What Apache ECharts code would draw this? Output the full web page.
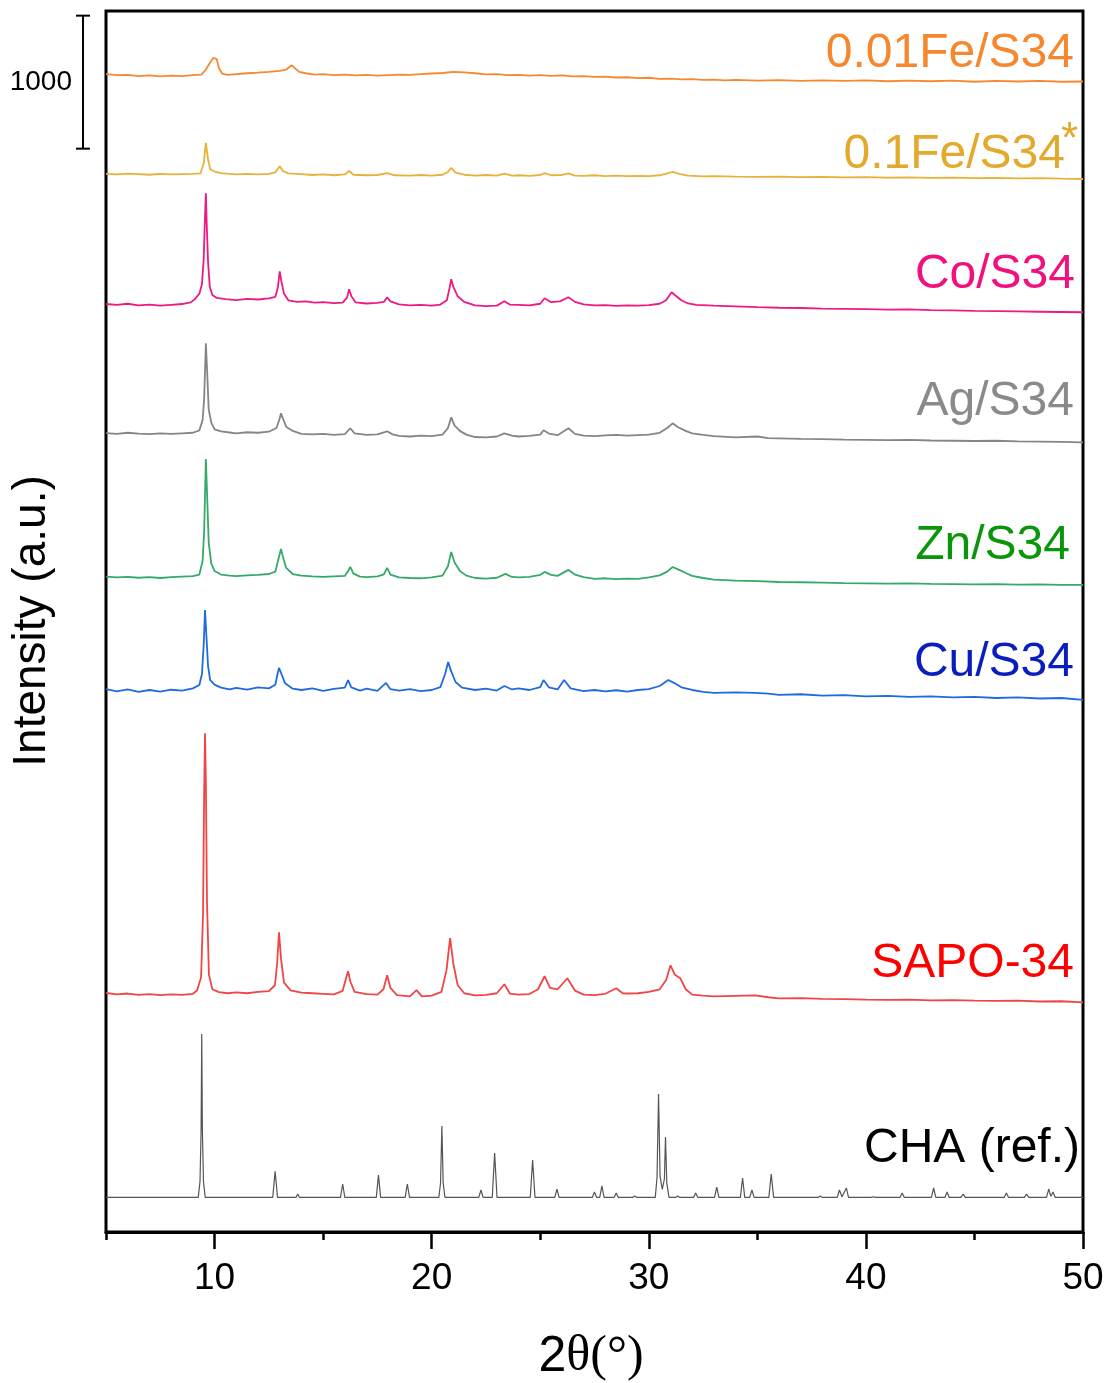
<!DOCTYPE html>
<html>
<head>
<meta charset="utf-8">
<title>XRD patterns</title>
<script src="https://cdn.jsdelivr.net/npm/echarts@6.0.0/dist/echarts.min.js"></script>
<style>
    html, body { margin: 0; padding: 0; background: #fff; }
    #main { width: 1112px; height: 1383px; }
</style>
</head>
<body>
<div id="main"></div>
<script>

// 2theta (deg), intensity (counts)

var fe001 = [[5,305],[5.5,298],[6,300],[6.5,290],[7,296],[7.5,288],[8,294],[8.5,290],[9,298],[9.4,302],[9.6,340],[9.8,395],[9.95,428],[10.1,418],[10.2,350],[10.35,310],[10.6,300],[11,306],[11.5,312],[12,316],[12.5,322],[13,330],[13.3,340],[13.55,372],[13.7,350],[13.9,322],[14.2,312],[14.6,302],[15,306],[15.5,298],[16,302],[16.5,296],[17,300],[17.5,294],[18,298],[18.5,302],[19,300],[19.5,306],[20,310],[20.5,314],[21,322],[21.5,318],[22,312],[22.5,304],[23,306],[23.5,298],[24,300],[24.5,294],[25,298],[25.5,292],[26,296],[26.5,288],[27,290],[27.5,284],[28,286],[28.5,280],[29,282],[29.5,276],[30,278],[30.5,270],[31,272],[31.5,266],[32,268],[32.5,262],[33,264],[33.5,258],[34,262],[35,256],[36,260],[37,254],[38,258],[39,254],[40,258],[41,252],[42,256],[43,252],[44,256],[45,248],[46,254],[47,250],[48,254],[49,248],[50,250]];

var fe01 = [[5,300],[5.5,296],[6,302],[6.5,298],[7,294],[7.5,300],[8,296],[8.5,298],[9,300],[9.35,304],[9.5,380],[9.6,533],[9.7,410],[9.8,335],[10,318],[10.3,306],[10.7,300],[11,296],[11.5,300],[12,296],[12.5,300],[12.8,312],[13.0,358],[13.15,322],[13.4,304],[14,298],[14.5,292],[15,296],[15.5,290],[16,296],[16.2,322],[16.4,294],[17,290],[17.5,292],[17.95,306],[18.3,290],[19,288],[19.5,292],[20,288],[20.5,294],[20.75,315],[20.9,345],[21.1,310],[21.5,294],[22,288],[22.5,292],[23,288],[23.35,302],[23.7,288],[24,290],[24.5,286],[25,292],[25.2,306],[25.5,290],[26,292],[26.3,304],[26.6,288],[27,286],[27.5,290],[28,284],[28.5,288],[29,284],[29.5,286],[30,284],[30.5,290],[30.9,306],[31.1,316],[31.4,300],[31.8,288],[32.5,282],[33,284],[34,280],[35,278],[36,280],[37,276],[38,278],[39,274],[40,276],[41,272],[42,274],[43,270],[44,272],[45,268],[46,270],[47,266],[48,268],[49,264],[50,262]];

var co = [[5,302],[5.5,296],[6,304],[6.5,292],[7,298],[7.5,290],[8,296],[8.5,302],[8.9,314],[9.1,340],[9.3,380],[9.42,450],[9.5,640],[9.56,960],[9.6,1135],[9.64,900],[9.7,620],[9.78,430],[9.9,370],[10.1,348],[10.5,338],[11,332],[11.5,340],[12,336],[12.5,344],[12.8,356],[12.92,430],[13.0,548],[13.08,470],[13.2,380],[13.4,330],[13.8,318],[14.2,322],[14.6,312],[15,316],[15.5,308],[15.9,312],[16.1,350],[16.2,413],[16.3,360],[16.5,314],[17,306],[17.5,310],[17.8,318],[17.95,353],[18.1,322],[18.5,300],[19,292],[19.5,296],[20,290],[20.4,298],[20.7,330],[20.82,420],[20.9,488],[21.0,430],[21.2,360],[21.5,318],[22,292],[22.5,286],[23,290],[23.35,323],[23.6,298],[24,296],[24.5,292],[25,304],[25.2,345],[25.5,316],[25.9,322],[26.3,353],[26.6,318],[27,300],[27.5,292],[28,294],[28.5,288],[29,292],[29.5,290],[30,294],[30.5,304],[30.8,330],[31.05,390],[31.2,370],[31.5,330],[31.8,306],[32.2,296],[33,290],[34,284],[35,278],[36,274],[37,272],[38,268],[39,266],[40,264],[41,260],[42,262],[43,256],[44,254],[45,250],[46,248],[47,246],[48,244],[49,242],[50,240]];

var ag = [[5,302],[5.5,296],[6,304],[6.5,298],[7,294],[7.5,300],[8,296],[8.5,300],[9,304],[9.3,322],[9.45,400],[9.52,560],[9.6,977],[9.66,760],[9.73,480],[9.85,380],[10,330],[10.3,314],[10.7,306],[11,300],[11.5,308],[12,304],[12.5,312],[12.85,340],[12.98,400],[13.06,450],[13.15,410],[13.3,350],[13.6,318],[14,296],[14.5,292],[15,296],[15.5,288],[16,294],[16.25,338],[16.45,300],[17,288],[17.5,292],[17.95,315],[18.2,292],[18.5,280],[19,276],[19.5,282],[20,278],[20.5,290],[20.75,340],[20.9,420],[21.05,360],[21.3,318],[21.6,290],[22,272],[22.5,270],[23,276],[23.35,300],[23.7,282],[24,276],[24.5,280],[25,290],[25.15,323],[25.4,298],[25.8,286],[26.3,338],[26.6,296],[27,282],[27.5,278],[28,284],[28.5,288],[29,282],[29.5,286],[30,290],[30.5,304],[30.85,340],[31.1,375],[31.35,345],[31.7,318],[32,300],[32.5,288],[33,278],[34,270],[35,276],[35.5,264],[36,262],[37,258],[38,256],[39,252],[40,250],[41,248],[42,250],[43,246],[44,244],[45,242],[46,244],[47,240],[48,238],[49,236],[50,232]];

var zn = [[5,302],[5.5,296],[6,300],[6.5,294],[7,298],[7.5,292],[8,298],[8.5,302],[9,306],[9.3,318],[9.45,420],[9.52,640],[9.6,1187],[9.66,900],[9.73,560],[9.85,400],[10,345],[10.3,318],[10.7,310],[11,306],[11.5,312],[12,316],[12.5,322],[12.8,340],[12.95,440],[13.06,510],[13.15,450],[13.3,368],[13.6,322],[14,310],[14.5,304],[15,300],[15.5,304],[16,308],[16.15,345],[16.25,375],[16.4,325],[16.7,302],[17,298],[17.5,304],[17.8,320],[17.95,368],[18.1,318],[18.5,296],[19,292],[19.5,290],[20,296],[20.5,310],[20.75,380],[20.9,488],[21.05,410],[21.3,345],[21.6,310],[22,292],[22.5,288],[23,294],[23.4,323],[23.7,300],[24,296],[24.5,300],[25,316],[25.2,338],[25.5,316],[25.8,308],[26.3,353],[26.6,318],[27,298],[27.5,286],[28,290],[28.5,284],[29,288],[29.5,286],[30,296],[30.5,312],[30.85,340],[31.1,375],[31.4,353],[31.7,330],[32,308],[32.5,292],[33,280],[34,272],[35,268],[36,262],[37,260],[38,258],[39,254],[40,252],[41,250],[42,252],[43,248],[44,246],[45,244],[46,246],[47,242],[48,244],[49,240],[50,240]];

var cu = [[5,306],[5.5,290],[6,304],[6.5,286],[7,300],[7.5,288],[8,302],[8.5,296],[9,312],[9.3,338],[9.42,420],[9.5,640],[9.56,902],[9.62,720],[9.7,480],[9.8,375],[10,340],[10.3,318],[10.7,304],[11,316],[11.5,302],[12,320],[12.5,312],[12.8,340],[12.9,420],[12.97,466],[13.08,420],[13.25,350],[13.6,310],[14,300],[14.5,312],[15,294],[15.5,308],[16,318],[16.15,375],[16.3,320],[16.7,296],[17,310],[17.5,294],[17.9,353],[18.1,306],[18.5,296],[19,306],[19.5,292],[20,300],[20.4,322],[20.62,420],[20.76,511],[20.9,440],[21.1,360],[21.4,318],[22,300],[22.5,310],[23,296],[23.35,330],[23.7,304],[24,312],[24.5,300],[25,322],[25.15,375],[25.4,320],[25.8,304],[26.1,375],[26.4,312],[27,292],[27.5,300],[28,290],[28.5,298],[29,288],[29.5,300],[30,306],[30.5,330],[30.9,375],[31.2,350],[31.5,320],[32,300],[32.5,286],[33,278],[34,282],[34.9,278],[35.5,272],[36,264],[37,268],[38,258],[39,262],[40,252],[41,256],[42,248],[43,252],[44,244],[45,248],[46,240],[47,244],[48,236],[49,240],[50,225]];

var sapo = [[5,302],[5.5,292],[6,298],[6.5,288],[7,294],[7.5,286],[8,292],[8.5,288],[9,296],[9.2,323],[9.38,420],[9.47,900],[9.52,1800],[9.56,2255],[9.6,1900],[9.65,1000],[9.74,440],[9.9,330],[10.2,308],[10.6,300],[11,306],[11.5,300],[12,310],[12.5,316],[12.78,360],[12.88,520],[12.97,759],[13.06,560],[13.2,380],[13.5,322],[14,304],[14.5,300],[15,296],[15.5,292],[15.9,318],[16.07,420],[16.15,465],[16.25,390],[16.45,310],[17,294],[17.5,290],[17.78,330],[17.95,435],[18.1,340],[18.4,286],[19,276],[19.3,323],[19.55,276],[20,282],[20.45,310],[20.68,470],[20.85,714],[21.0,520],[21.2,360],[21.5,300],[22,284],[22.5,288],[23,300],[23.35,368],[23.6,298],[24,290],[24.5,294],[24.9,330],[25.2,428],[25.45,340],[25.8,330],[26.25,413],[26.6,320],[27,290],[27.5,286],[28,296],[28.5,338],[28.8,300],[29,298],[29.5,300],[30,310],[30.5,330],[30.8,400],[31.0,510],[31.2,440],[31.45,413],[31.7,330],[32,290],[32.5,282],[33,276],[34,280],[34.9,284],[35.5,270],[36,262],[37,264],[38,258],[39,256],[40,252],[41,250],[42,252],[43,246],[44,248],[45,244],[46,242],[47,244],[48,238],[49,240],[50,232]];

// simulated CHA reference pattern
var cha = [[5,0],
    [9.25,0],[9.33,120],[9.38,500],[9.41,1229],[9.44,500],[9.49,120],[9.57,0],
    [12.68,0],[12.79,197],[12.9,0],
    [13.75,0],[13.83,26],[13.91,0],
    [15.8,0],[15.9,101],[16.0,0],
    [17.45,0],[17.55,168],[17.65,0],
    [18.78,0],[18.88,101],[18.98,0],
    [20.33,0],[20.41,110],[20.47,537],[20.53,110],[20.61,0],
    [22.17,0],[22.27,56],[22.37,0],
    [22.79,0],[22.9,334],[23.01,0],
    [24.54,0],[24.65,281],[24.76,0],
    [25.67,0],[25.77,63],[25.87,0],
    [27.4,0],[27.5,41],[27.6,0],
    [27.74,0],[27.84,86],[27.94,0],
    [28.4,0],[28.5,33],[28.6,0],
    [29.25,0],[29.35,11],[29.45,0],
    [30.3,0],[30.38,150],[30.45,778],[30.52,160],[30.62,60],[30.72,140],[30.77,454],[30.83,110],[30.93,0],
    [31.23,0],[31.33,11],[31.43,0],
    [32.06,0],[32.16,33],[32.26,0],
    [33.03,0],[33.13,78],[33.23,0],
    [34.22,0],[34.32,146],[34.42,0],
    [34.65,0],[34.75,56],[34.85,0],
    [35.53,0],[35.64,176],[35.75,0],
    [37.8,0],[37.9,11],[38.0,0],
    [38.68,0],[38.78,56],[38.9,5],[39.1,71],[39.2,0],
    [40.25,0],[40.35,5],[40.45,0],
    [41.57,0],[41.67,33],[41.77,0],
    [43.02,0],[43.12,71],[43.22,0],
    [43.64,0],[43.74,41],[43.84,0],
    [44.38,0],[44.48,26],[44.58,0],
    [46.37,0],[46.47,33],[46.57,0],
    [47.3,0],[47.4,26],[47.5,0],
    [48.32,0],[48.42,63],[48.52,8],[48.62,41],[48.72,0],
    [50,0]];

var names   = ['0.01Fe/S34', '0.1Fe/S34', 'Co/S34', 'Ag/S34', 'Zn/S34', 'Cu/S34', 'SAPO-34', 'CHA (ref.)'];
var patterns = [fe001, fe01, co, ag, zn, cu, sapo, cha];
var offsets = [8400, 7655, 6675, 5705, 4625, 3775, 1495, 260];   // vertical stacking offset (counts)

var majorTicks = [10, 20, 30, 40, 50];
var minorTicks = [5, 15, 25, 35, 45];
var scaleBar = [[3.94, 8145, 9145]];   // x, from, to (1000 counts)

// styles / layout
var lineColors = ['#F5892F', '#E8B13A', '#EE1A82', '#858585', '#35AA68', '#1F6ADF', '#F04545', '#555555'];
var textColors = ['#F5882E', '#E2A92C', '#F0117E', '#8A8A8A', '#0A960A', '#0A1EBE', '#FF0000', '#000000'];
var labelPos = [[1074, 54], [1065, 155], [1075, 275], [1074, 402], [1070, 546], [1074, 663], [1074, 964], [1080, 1149]];

var myChart = echarts.init(document.getElementById('main'));

var series = [];
for (var i = 0; i < patterns.length; i++) {
    var off = offsets[i];
    series.push({
        name: names[i],
        type: 'line',
        symbol: 'none',
        smooth: false,
        silent: true,
        lineStyle: { color: lineColors[i], width: i === 7 ? 1.2 : 1.8 },
        data: patterns[i].map(function (p) { return [p[0], p[1] + off]; })
    });
}

// 1000-count scale bar, drawn through the axes
series.push({
    type: 'custom',
    silent: true,
    clip: false,
    data: scaleBar,
    renderItem: function (params, api) {
        var p0 = api.coord([api.value(0), api.value(1)]);
        var p1 = api.coord([api.value(0), api.value(2)]);
        var st = { stroke: '#000', lineWidth: 2 };
        return {
            type: 'group',
            children: [
                { type: 'line', shape: { x1: p0[0], y1: p0[1], x2: p1[0], y2: p1[1] }, style: st },
                { type: 'line', shape: { x1: p0[0] - 7, y1: p0[1], x2: p0[0] + 7, y2: p0[1] }, style: st },
                { type: 'line', shape: { x1: p1[0] - 7, y1: p1[1], x2: p1[0] + 7, y2: p1[1] }, style: st },
                { type: 'text', style: { text: '1000', x: p0[0] - 11, y: (p0[1] + p1[1]) / 2, align: 'right', verticalAlign: 'middle',
                    font: '28px "Liberation Sans", Arial, sans-serif', fill: '#000' } }
            ]
        };
    }
});

var graphics = [];
for (var j = 0; j < names.length; j++) {
    graphics.push({
        type: 'text',
        x: labelPos[j][0],
        y: labelPos[j][1],
        silent: true,
        style: {
            text: names[j],
            align: 'right',
            verticalAlign: 'middle',
            font: '48px "Liberation Sans", Arial, sans-serif',
            fill: textColors[j]
        }
    });
}
// asterisk on 0.1Fe/S34
graphics.push({
    type: 'text', x: 1061, y: 119, silent: true,
    style: { text: '*', align: 'left', verticalAlign: 'top', font: '44px "Liberation Sans", Arial, sans-serif', fill: textColors[1] }
});
// axis titles
graphics.push({
    type: 'text', x: 32, y: 621, rotation: Math.PI / 2, silent: true,
    style: { text: 'Intensity (a.u.)', align: 'center', verticalAlign: 'middle', font: '46px "Liberation Sans", Arial, sans-serif', fill: '#000' }
});
graphics.push({
    type: 'text', x: 591, y: 1357, silent: true,
    style: {
        text: '{a|2}{b|θ(°)}',
        align: 'center',
        verticalAlign: 'middle',
        rich: {
            a: { fontFamily: '"Liberation Sans", Arial, sans-serif', fontSize: 50, fill: '#000' },
            b: { fontFamily: '"Liberation Serif", "Times New Roman", serif', fontSize: 50, fill: '#000' }
        }
    }
});

var option = {
    backgroundColor: '#fff',
    animation: false,
    grid: {
        left: 106,
        right: 29,
        top: 11,
        bottom: 151,
        show: true,
        borderColor: '#000',
        borderWidth: 3,
        containLabel: false
    },
    xAxis: [
        {
            type: 'value',
            min: 5,
            max: 50,
            position: 'bottom',
            axisLine: { show: true, onZero: false, lineStyle: { color: '#000', width: 3 } },
            axisTick: { show: true, customValues: majorTicks, length: 17, lineStyle: { color: '#000', width: 2.5 } },
            axisLabel: { customValues: majorTicks, color: '#000', fontSize: 37, fontFamily: '"Liberation Sans", Arial, sans-serif', margin: 28 },
            splitLine: { show: false }
        },
        {
            type: 'value',
            min: 5,
            max: 50,
            position: 'bottom',
            axisLine: { show: false, onZero: false },
            axisTick: { show: true, customValues: minorTicks, length: 8, lineStyle: { color: '#000', width: 2.5 } },
            axisLabel: { show: false },
            splitLine: { show: false }
        }
    ],
    yAxis: {
        type: 'value',
        min: 0,
        max: 9180,
        show: false,
        splitLine: { show: false }
    },
    graphic: graphics,
    series: series
};

myChart.setOption(option);

</script>
</body>
</html>
